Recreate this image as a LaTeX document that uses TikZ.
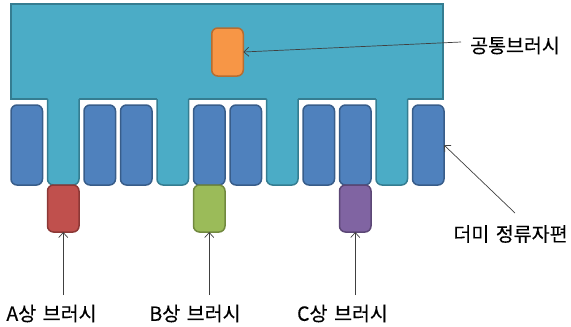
\documentclass[tikz,border=0pt]{standalone}
\usepackage{fontspec}
\setmainfont{Noto Sans CJK KR}
\newfontfamily\lblfont[WordSpace=1.5,FakeBold=0.25]{Noto Sans CJK KR}
\usetikzlibrary{arrows.meta,calc}
\definecolor{aquaF}{HTML}{4BACC6}
\definecolor{aquaD}{HTML}{357D91}
\definecolor{blueF}{HTML}{4F81BD}
\definecolor{blueD}{HTML}{385D8A}
\definecolor{redF}{HTML}{C0504D}
\definecolor{redD}{HTML}{8C3836}
\definecolor{greenF}{HTML}{9BBB59}
\definecolor{greenD}{HTML}{71893F}
\definecolor{purpF}{HTML}{8064A2}
\definecolor{purpD}{HTML}{5C4776}
\definecolor{orF}{HTML}{F79646}
\definecolor{orD}{HTML}{B66D31}
\tikzset{
  box/.style={rectangle, inner sep=0pt, outer sep=0pt, line width=1.5pt},
  dummyseg/.style={box, fill=blueF, draw=blueD, rounded corners=6pt,
    minimum width=31.5pt, minimum height=80pt},
  tealbody/.style={box, fill=aquaF, draw=none, rounded corners=6pt,
    minimum width=31.5pt, minimum height=95pt},
  brush/.style={box, rounded corners=6pt, minimum width=31.5pt, minimum height=47pt},
  lbl/.style={font=\lblfont\fontsize{19.5}{21}\selectfont, inner sep=0pt},
  pointer/.style={line width=0.7pt, draw=black!75, -{Straight Barb[length=5pt,width=9pt]}}
}
\begin{document}
\begin{tikzpicture}[x=1pt,y=-1pt]
\useasboundingbox (0,0) rectangle (571,327);

% commutator body
\node[box, fill=aquaF, draw=aquaD, minimum width=432pt, minimum height=95pt]
  (body) at (227,51.5) {};

% twelve commutator segments: teal ones are joined to the body
\foreach \i in {1,...,12}{
  \pgfmathsetmacro{\cx}{11+(\i-1)*36.5+15.75}
  \pgfmathtruncatemacro{\m}{mod(\i,3)}
  \ifnum\m=2
    \node[tealbody] (s\i) at (\cx,137.5) {};
    \draw[line width=1.5pt, draw=aquaD, rounded corners=6pt]
      (s\i.west |- body.south) -- (s\i.south west) -- (s\i.south east) -- (s\i.east |- body.south);
  \else
    \node[dummyseg] (s\i) at (\cx,145) {};
  \fi
}

% brushes
\node[brush, fill=orF, draw=orD, minimum height=48pt] (cb) at (227.5,52) {};
\node[brush, fill=redF, draw=redD] (ba) at (s2.south |- 0,208.5) {};
\node[brush, fill=greenF, draw=greenD] (bb) at (s6.south |- 0,208.5) {};
\node[brush, fill=purpF, draw=purpD] (bc) at (s10.south |- 0,208.5) {};

% labels
\node[lbl] (tcb) at (515,45.5) {공통브러시};
\node[lbl] (tdm) at (510.5,234) {더미 정류자편};
\node[lbl] (ta) at (51.5,313.5) {A상 브러시};
\node[lbl] (tb) at (195,313.5) {B상 브러시};
\node[lbl] (tc) at (342.5,313.5) {C상 브러시};

% leader arrows
\coordinate (cbtail) at (461,42);
\coordinate (dmtail) at (515,213);
\draw[pointer] (cbtail) -- (cb.east);
\draw[pointer] (dmtail) -- (s12.east);
\draw[pointer] (ba.south |- 0,295) -- (ba.south);
\draw[pointer] (bb.south |- 0,295) -- (bb.south);
\draw[pointer] (bc.south |- 0,295) -- (bc.south);
\end{tikzpicture}
\end{document}
